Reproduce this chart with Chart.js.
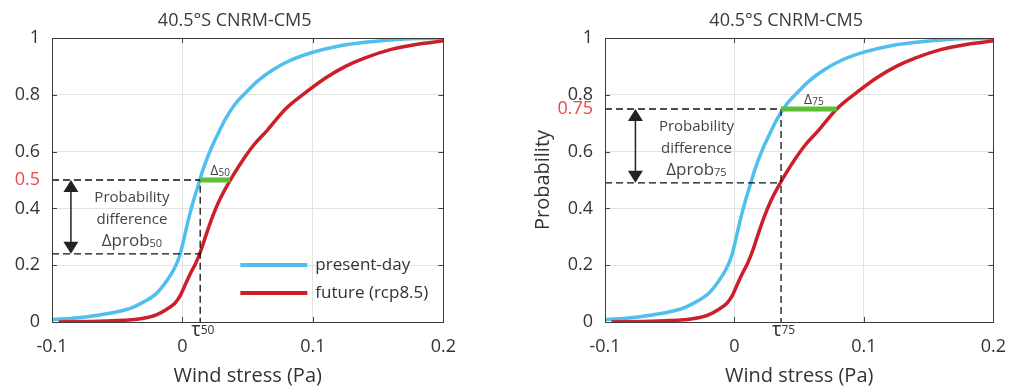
<!DOCTYPE html>
<html>
<head>
<meta charset="utf-8">
<script src="https://cdn.jsdelivr.net/npm/chart.js@4/dist/chart.umd.min.js"></script>
<style>
body{margin:0;background:#fff;width:1020px;height:392px;overflow:hidden;position:relative;}
.panel{position:absolute;top:0;height:392px;}
#leftBox{left:0;width:470px;}
#rightBox{left:500px;width:520px;}
</style>
</head>
<body>
<div class="panel" id="leftBox"><canvas id="leftChart" width="470" height="392"></canvas></div>
<div class="panel" id="rightBox"><canvas id="rightChart" width="520" height="392"></canvas></div>
<script>
const panelTitle = '40.5°S CNRM-CM5';
const seriesNames = ['present-day', 'future (rcp8.5)'];
const xTicks = [-0.1, 0, 0.1, 0.2];
const yTicks = [0, 0.2, 0.4, 0.6, 0.8, 1];

const presentX = [-0.1, -0.08, -0.065, -0.05, -0.039, -0.03, -0.02, -0.012, -0.006, -0.002, 0.001, 0.004, 0.008, 0.012, 0.016, 0.021, 0.027, 0.033, 0.04, 0.048, 0.058, 0.07, 0.082, 0.1, 0.12, 0.14, 0.16, 0.18, 0.2];
const presentY = [0.008, 0.015, 0.024, 0.036, 0.05, 0.07, 0.10, 0.145, 0.19, 0.235, 0.29, 0.35, 0.42, 0.48, 0.54, 0.60, 0.66, 0.715, 0.765, 0.805, 0.85, 0.89, 0.92, 0.95, 0.972, 0.985, 0.993, 0.998, 1.0];
const futureX = [-0.095, -0.07, -0.05, -0.039, -0.03, -0.02, -0.012, -0.006, -0.002, 0.002, 0.006, 0.010, 0.014, 0.018, 0.023, 0.028, 0.034, 0.04, 0.047, 0.055, 0.065, 0.079, 0.095, 0.11, 0.125, 0.14, 0.16, 0.18, 0.2];
const futureY = [0.0, 0.002, 0.005, 0.008, 0.013, 0.025, 0.045, 0.065, 0.09, 0.13, 0.17, 0.205, 0.25, 0.305, 0.37, 0.425, 0.478, 0.525, 0.575, 0.625, 0.675, 0.75, 0.81, 0.86, 0.9, 0.93, 0.96, 0.978, 0.99];

// quantile markers (left: 50th, right: 75th)
const leftMark = { level: 0.5, tau: 0.0136, low: 0.24, delta: 0.0365, arrowX: -0.0855, sub: '50' };
const rightMark = { level: 0.75, tau: 0.036, low: 0.49, delta: 0.079, arrowX: -0.0765, sub: '75' };

const BLUE = '#4fbfee', RED = '#cc1f28', GREEN = '#5cbf36';
const TEXT = '#3a3a3a', FONT = "'Open Sans', sans-serif";

function pts(xs, ys) { return xs.map((x, i) => ({ x: x, y: ys[i] })); }

// frame, inward tick marks, title, annotations, legend
const decorPlugin = {
    id: 'decor',
    afterDraw(chart, args, o) {
        const ctx = chart.ctx, a = chart.chartArea, xs = chart.scales.x, ys = chart.scales.y;
        const m = o.mark;
        ctx.save();
        // ticks inside the box
        ctx.strokeStyle = '#444'; ctx.lineWidth = 1;
        ctx.beginPath();
        xTicks.forEach(v => {
            const px = Math.round(xs.getPixelForValue(v)) + 0.5;
            ctx.moveTo(px, a.top); ctx.lineTo(px, a.top + 5);
            ctx.moveTo(px, a.bottom); ctx.lineTo(px, a.bottom - 5);
        });
        yTicks.forEach(v => {
            const py = Math.round(ys.getPixelForValue(v)) + 0.5;
            ctx.moveTo(a.left, py); ctx.lineTo(a.left + 5, py);
            ctx.moveTo(a.right, py); ctx.lineTo(a.right - 5, py);
        });
        ctx.stroke();
        ctx.strokeStyle = '#3c3c3c';
        ctx.strokeRect(Math.round(a.left) + 0.5, Math.round(a.top) + 0.5, Math.round(a.right - a.left), Math.round(a.bottom - a.top));

        // title
        ctx.fillStyle = TEXT;
        ctx.font = '18px ' + FONT;
        ctx.textAlign = 'center'; ctx.textBaseline = 'middle';
        ctx.fillText(panelTitle, (a.left + a.right) / 2 - 13, 21);

        // double arrow
        const ax = xs.getPixelForValue(m.arrowX);
        const yTop = ys.getPixelForValue(m.level), yBot = ys.getPixelForValue(m.low);
        ctx.strokeStyle = '#222'; ctx.fillStyle = '#222'; ctx.lineWidth = 1.5;
        ctx.beginPath(); ctx.moveTo(ax, yTop + 8); ctx.lineTo(ax, yBot - 8); ctx.stroke();
        ctx.beginPath(); ctx.moveTo(ax, yTop); ctx.lineTo(ax - 7.5, yTop + 12); ctx.lineTo(ax + 7.5, yTop + 12); ctx.closePath(); ctx.fill();
        ctx.beginPath(); ctx.moveTo(ax, yBot); ctx.lineTo(ax - 7.5, yBot - 12); ctx.lineTo(ax + 7.5, yBot - 12); ctx.closePath(); ctx.fill();

        // "Probability difference Δprob"
        ctx.fillStyle = '#444';
        ctx.font = '15px ' + FONT;
        const cx = ax + 61;
        ctx.fillText('Probability', cx, yTop + 18);
        ctx.fillText('difference', cx, yTop + 40);
        const big = 'Δprob';
        ctx.font = '17px ' + FONT;
        const wBig = ctx.measureText(big).width;
        ctx.font = '11px ' + FONT;
        const wSub = ctx.measureText(m.sub).width;
        let sx = cx - (wBig + wSub) / 2;
        ctx.textAlign = 'left';
        ctx.font = '17px ' + FONT; ctx.fillText(big, sx, yTop + 61);
        ctx.font = '11px ' + FONT; ctx.fillText(m.sub, sx + wBig, yTop + 64);

        // Δ label above green bar
        const gx = (xs.getPixelForValue(m.tau) + xs.getPixelForValue(m.delta)) / 2 + 5;
        ctx.font = '14px ' + FONT;
        const wd = ctx.measureText('Δ').width;
        ctx.font = '10px ' + FONT;
        const wds = ctx.measureText(m.sub).width;
        sx = gx - (wd + wds) / 2;
        ctx.font = '14px ' + FONT; ctx.fillText('Δ', sx, yTop - 9);
        ctx.font = '10px ' + FONT; ctx.fillText(m.sub, sx + wd, yTop - 7);

        // τ label under the axis
        const tx = xs.getPixelForValue(m.tau) - 9;
        ctx.fillStyle = '#333';
        ctx.font = '20px ' + FONT; ctx.fillText('τ', tx, a.bottom + 8);
        const wt = ctx.measureText('τ').width;
        ctx.font = '12px ' + FONT; ctx.fillText(m.sub, tx + wt, a.bottom + 9);

        // legend inside the left panel
        if (o.legend) {
            const rows = [[seriesNames[0], BLUE, a.bottom - 57], [seriesNames[1], RED, a.bottom - 29]];
            rows.forEach(r => {
                ctx.strokeStyle = r[1]; ctx.lineWidth = 4;
                ctx.beginPath(); ctx.moveTo(a.right - 203, r[2]); ctx.lineTo(a.right - 136, r[2]); ctx.stroke();
                ctx.fillStyle = '#333'; ctx.font = '17px ' + FONT;
                ctx.textAlign = 'left';
                ctx.fillText(r[0], a.right - 128, r[2]);
            });
        }
        ctx.restore();
    }
};

function buildPanel(id, mark, yWidth, padRight, withLegend, yTitle) {
    const datasets = [
        { data: [{ x: mark.tau, y: mark.level }, { x: mark.delta, y: mark.level }], borderColor: GREEN, borderWidth: 5, order: 0 },
        { data: [{ x: -0.1, y: mark.level }, { x: mark.tau, y: mark.level }, { x: mark.tau, y: 0 }], borderColor: '#111', borderWidth: 1.3, borderDash: [7, 4], order: 1 },
        { data: [{ x: -0.1, y: mark.low }, { x: mark.tau, y: mark.low }], borderColor: '#111', borderWidth: 1.3, borderDash: [7, 4], order: 1 },
        { label: seriesNames[1], data: pts(futureX, futureY), borderColor: RED, borderWidth: 3.5, cubicInterpolationMode: 'monotone', order: 2 },
        { label: seriesNames[0], data: pts(presentX, presentY), borderColor: BLUE, borderWidth: 3.5, cubicInterpolationMode: 'monotone', order: 3 }
    ];
    return new Chart(document.getElementById(id), {
        type: 'line',
        data: { datasets: datasets },
        plugins: [decorPlugin],
        options: {
            responsive: false,
            animation: false,
            layout: { padding: { top: 38, right: padRight, left: 0, bottom: 0 } },
            elements: { point: { radius: 0 }, line: { fill: false } },
            plugins: {
                legend: { display: false },
                tooltip: { enabled: false },
                decor: { mark: mark, legend: withLegend }
            },
            scales: {
                x: {
                    type: 'linear', min: -0.1, max: 0.2,
                    afterBuildTicks: s => { s.ticks = xTicks.map(v => ({ value: v })); },
                    afterFit: s => { s.height = 70; },
                    ticks: { padding: 14, color: '#333', font: { family: FONT, size: 18 }, callback: v => String(v), maxRotation: 0 },
                    grid: { drawTicks: false, color: '#e2e2e2' },
                    border: { display: false },
                    title: { display: true, text: 'Wind stress (Pa)', color: '#333', font: { family: FONT, size: 20 }, padding: { top: 0, bottom: 4 } }
                },
                y: {
                    min: 0, max: 1,
                    afterBuildTicks: s => { s.ticks = yTicks.concat([mark.level]).sort((p, q) => p - q).map(v => ({ value: v })); },
                    afterFit: s => { s.width = yWidth; },
                    ticks: {
                        autoSkip: false, padding: 12,
                        color: c => c.tick.value === mark.level ? '#f0464b' : '#333',
                        font: { family: FONT, size: 18 },
                        callback: v => String(v)
                    },
                    grid: { drawTicks: false, color: c => (c.tick && c.tick.value === mark.level) ? 'rgba(0,0,0,0)' : '#e2e2e2' },
                    border: { display: false },
                    title: { display: !!yTitle, text: yTitle || '', color: '#333', font: { family: FONT, size: 20 }, padding: { top: 31, bottom: 0 } }
                }
            }
        }
    });
}

buildPanel('leftChart', leftMark, 52, 22, true, null);
buildPanel('rightChart', rightMark, 105, 14, false, 'Probability');
</script>
</body>
</html>
